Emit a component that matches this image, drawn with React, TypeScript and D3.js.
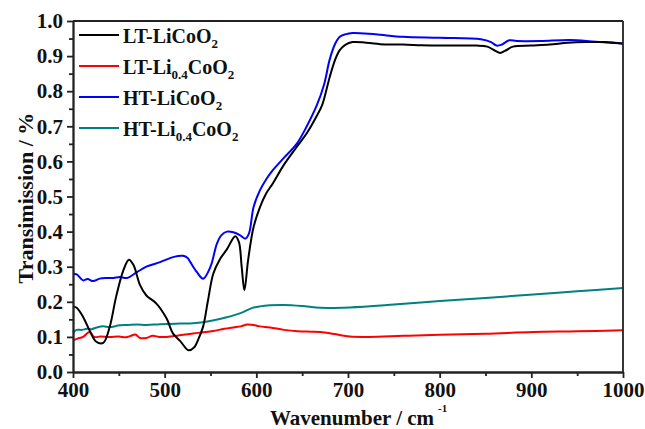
import React, { useRef, useEffect } from "react";
import { select, line, curveCatmullRom, axisBottom, axisLeft, scaleLinear, range } from "d3";

// LT-LiCoO2 (black)
const ltLiCoO2X = [400, 404, 411, 418, 425, 433, 440, 447, 455, 461, 466, 473, 480, 491, 502, 509, 517, 526, 532, 537, 542, 547, 553, 560, 568, 577, 581, 584, 587, 591, 597, 604, 611, 618, 630, 644, 655, 666, 672, 680, 686, 691, 697, 705, 720, 740, 760, 780, 800, 820, 840, 852, 860, 866, 872, 880, 900, 920, 940, 960, 980, 1000];
const ltLiCoO2Y = [0.187, 0.183, 0.157, 0.119, 0.087, 0.083, 0.128, 0.214, 0.29, 0.32, 0.305, 0.248, 0.218, 0.195, 0.153, 0.11, 0.088, 0.062, 0.07, 0.095, 0.13, 0.2, 0.28, 0.32, 0.35, 0.387, 0.37, 0.3, 0.233, 0.318, 0.413, 0.47, 0.51, 0.537, 0.59, 0.641, 0.68, 0.73, 0.762, 0.84, 0.89, 0.917, 0.932, 0.94, 0.938, 0.933, 0.933, 0.931, 0.93, 0.93, 0.93, 0.927, 0.916, 0.909, 0.916, 0.927, 0.93, 0.933, 0.938, 0.94, 0.94, 0.935];

// LT-Li0.4CoO2 (red)
const ltLi04X = [400, 405, 411, 418, 423, 430, 440, 450, 458, 463, 468, 473, 480, 487, 494, 502, 515, 531, 545, 553, 565, 575, 583, 590, 597, 604, 615, 630, 645, 660, 670, 685, 702, 723, 760, 800, 850, 902, 950, 1000];
const ltLi04Y = [0.09, 0.095, 0.1, 0.114, 0.1, 0.101, 0.1, 0.101, 0.099, 0.103, 0.107, 0.097, 0.097, 0.103, 0.1, 0.1, 0.104, 0.11, 0.114, 0.117, 0.123, 0.127, 0.13, 0.135, 0.134, 0.13, 0.127, 0.12, 0.116, 0.115, 0.114, 0.108, 0.101, 0.1, 0.103, 0.106, 0.109, 0.114, 0.116, 0.119];

// HT-LiCoO2 (blue)
const htLiCoO2X = [400, 404, 411, 416, 422, 429, 437, 444, 451, 459, 470, 480, 495, 510, 520, 525, 528, 535, 542, 550, 557, 562, 568, 575, 582, 588, 592, 597, 604, 611, 618, 630, 644, 655, 666, 674, 680, 686, 691, 697, 705, 730, 760, 800, 845, 856, 862, 867, 876, 884, 910, 942, 970, 1000];
const htLiCoO2Y = [0.28, 0.278, 0.261, 0.265, 0.259, 0.266, 0.268, 0.268, 0.271, 0.268, 0.285, 0.3, 0.313, 0.328, 0.331, 0.325, 0.313, 0.285, 0.266, 0.3, 0.366, 0.39, 0.4, 0.398, 0.39, 0.38, 0.395, 0.47, 0.518, 0.55, 0.575, 0.61, 0.65, 0.7, 0.76, 0.82, 0.89, 0.935, 0.955, 0.962, 0.966, 0.962, 0.955, 0.952, 0.948, 0.94, 0.93, 0.932, 0.945, 0.943, 0.943, 0.946, 0.941, 0.936];

// HT-Li0.4CoO2 (teal)
const htLi04X = [400, 404, 410, 415, 420, 426, 433, 440, 451, 460, 470, 480, 495, 517, 531, 542, 560, 582, 595, 604, 615, 630, 650, 670, 702, 750, 800, 850, 902, 950, 1000];
const htLi04Y = [0.112, 0.12, 0.12, 0.123, 0.122, 0.127, 0.13, 0.128, 0.133, 0.134, 0.135, 0.134, 0.136, 0.138, 0.139, 0.142, 0.151, 0.167, 0.182, 0.187, 0.19, 0.191, 0.188, 0.183, 0.184, 0.192, 0.202, 0.211, 0.221, 0.23, 0.239];

const seriesNames = ["LT-LiCoO2", "LT-Li0.4CoO2", "HT-LiCoO2", "HT-Li0.4CoO2"];
const colors = ["#000000", "#ff0000", "#0000ff", "#008080"];

const xTicks = [400, 500, 600, 700, 800, 900, 1000];
const yTicks = [0.0, 0.1, 0.2, 0.3, 0.4, 0.5, 0.6, 0.7, 0.8, 0.9, 1.0];

const font = "'Liberation Serif', 'Times New Roman', serif";

function App() {
    const svgRef = useRef<SVGSVGElement>(null);

    const width = 645,
        height = 429;
    const margin = { top: 21, right: 22, bottom: 57, left: 73 };

    useEffect(() => {
        const svg = select(svgRef.current);

        const xScale = scaleLinear()
            .domain([400, 1000])
            .range([margin.left, width - margin.right]);

        const yScale = scaleLinear()
            .domain([0, 1])
            .range([height - margin.bottom, margin.top]);

        // minor ticks first, then major ticks with labels
        const xMinor = axisBottom(xScale)
            .tickValues(range(450, 1000, 100))
            .tickSize(4)
            .tickSizeOuter(0)
            .tickFormat(() => "");
        const yMinor = axisLeft(yScale)
            .tickValues(range(0.05, 1, 0.1))
            .tickSize(4)
            .tickSizeOuter(0)
            .tickFormat(() => "");

        const xAxis = axisBottom(xScale)
            .tickValues(xTicks)
            .tickSize(6)
            .tickSizeOuter(0)
            .tickPadding(4)
            .tickFormat(d => String(d));
        const yAxis = axisLeft(yScale)
            .tickValues(yTicks)
            .tickSize(6)
            .tickSizeOuter(0)
            .tickPadding(4)
            .tickFormat(d => (d as number).toFixed(1));

        svg.select(".x-minor")
            .attr("transform", `translate(0,${height - margin.bottom})`)
            .call(xMinor as any);
        svg.select(".y-minor")
            .attr("transform", `translate(${margin.left},0)`)
            .call(yMinor as any);
        svg.select(".x-axis")
            .attr("transform", `translate(0,${height - margin.bottom})`)
            .call(xAxis as any);
        svg.select(".y-axis")
            .attr("transform", `translate(${margin.left},0)`)
            .call(yAxis as any);

        svg.selectAll(".axis path, .axis line")
            .attr("stroke", "#222")
            .attr("stroke-width", 1.8);
        svg.selectAll(".axis text")
            .attr("font-family", font)
            .attr("font-weight", "bold")
            .attr("font-size", 21)
            .attr("fill", "#111");

        const xs = [ltLiCoO2X, ltLi04X, htLiCoO2X, htLi04X];
        const ys = [ltLiCoO2Y, ltLi04Y, htLiCoO2Y, htLi04Y];
        const data = xs.map((xArr, i) => xArr.map((x, j) => [x, ys[i][j]] as [number, number]));

        const myLine = line<[number, number]>()
            .x(d => xScale(d[0]))
            .y(d => yScale(d[1]))
            .curve(curveCatmullRom.alpha(0.5));

        // draw teal and red below, blue and black on top
        const order = [3, 1, 2, 0];
        svg.select(".lines")
            .selectAll("path")
            .data(order)
            .join("path")
            .attr("d", i => myLine(data[i]))
            .attr("fill", "none")
            .attr("stroke", i => colors[i])
            .attr("stroke-width", 2);

        // frame top and right
        svg.select(".frame")
            .selectAll("line")
            .data([
                [margin.left, margin.top, width - margin.right, margin.top],
                [width - margin.right, margin.top, width - margin.right, height - margin.bottom],
            ])
            .join("line")
            .attr("x1", d => d[0])
            .attr("y1", d => d[1])
            .attr("x2", d => d[2])
            .attr("y2", d => d[3])
            .attr("stroke", "#222")
            .attr("stroke-width", 1.8);
    }, []);

    const legendY = [35, 66, 97, 128];

    const legendLabel = (name: string) => {
        // "LT-Li0.4CoO2" -> LT-Li, sub 0.4, CoO, sub 2
        const m = name.match(/^(.*Li)(0\.4)?(CoO)2$/);
        if (!m) return name;
        return (
            <>
                {m[1]}
                {m[2] && (
                    <tspan fontSize={13} dy={5}>{m[2]}</tspan>
                )}
                <tspan fontSize={20} dy={m[2] ? -5 : 0}>{m[3]}</tspan>
                <tspan fontSize={13} dy={5}>2</tspan>
            </>
        );
    };

    return (
        <svg
            ref={svgRef}
            width={width}
            height={height}
            style={{ position: "absolute", left: 0, top: 0, background: "#fff" }}
        >
            <g className="lines" />
            <g className="axis x-minor" />
            <g className="axis y-minor" />
            <g className="axis x-axis" />
            <g className="axis y-axis" />
            <g className="frame" />
            <g className="legend" fontFamily={font} fontWeight="bold" fontSize={20} fill="#111">
                {seriesNames.map((name, i) => (
                    <g key={name}>
                        <line x1={79} x2={119} y1={legendY[i]} y2={legendY[i]} stroke={colors[i]} strokeWidth={2} />
                        <text x={123} y={legendY[i] + 8}>{legendLabel(name)}</text>
                    </g>
                ))}
            </g>
            <text
                transform="translate(33,198) rotate(-90)"
                textAnchor="middle"
                fontFamily={font}
                fontWeight="bold"
                fontSize={22}
                fill="#111"
            >
                Transimission / %
            </text>
            <text x={352} y={425} textAnchor="middle" fontFamily={font} fontWeight="bold" fontSize={21} fill="#111">
                Wavenumber / cm
            </text>
            <text x={438} y={412} fontFamily={font} fontWeight="bold" fontSize={11} fill="#111">
                -1
            </text>
        </svg>
    );
}

export default App;
